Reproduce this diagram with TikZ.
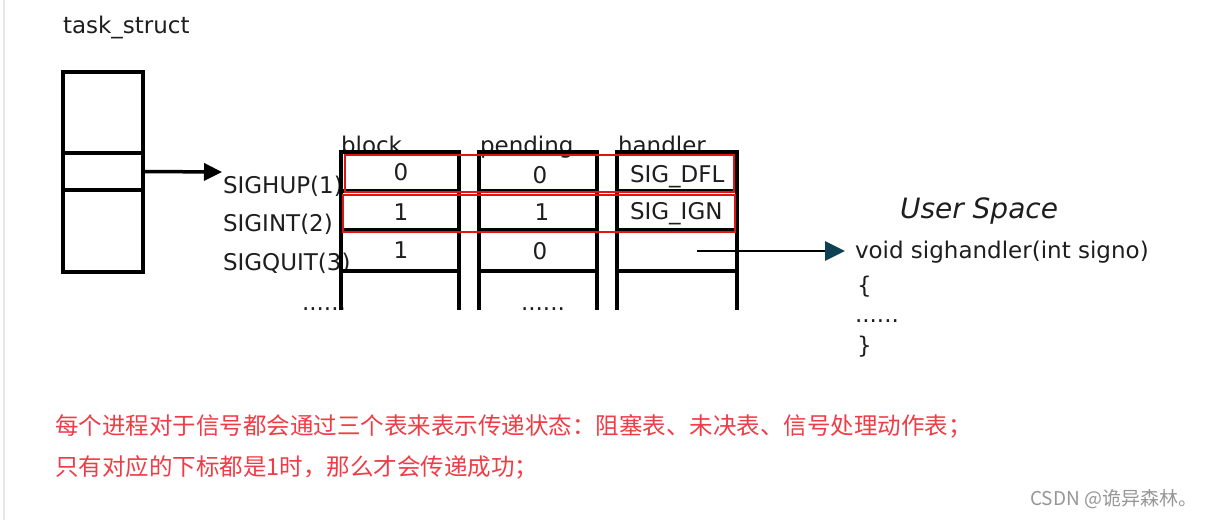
\documentclass[tikz,border=0pt]{standalone}
\usepackage{fontspec}
\setmainfont{DejaVu Sans}
\newfontfamily\cjk{Noto Sans CJK SC}
\usetikzlibrary{arrows.meta}
\definecolor{ink}{RGB}{30,30,30}
\definecolor{redtxt}{RGB}{240,60,70}
\definecolor{boxred}{RGB}{225,20,20}
\definecolor{tealhead}{RGB}{15,65,85}
\definecolor{wm}{RGB}{150,150,150}
\definecolor{edgegray}{RGB}{228,228,234}
\begin{document}
\begin{tikzpicture}[x=1pt,y=-1pt,
  lbl/.style={font=\fontsize{23}{27}\selectfont, text=ink, inner sep=0pt, outer sep=0pt, anchor=base west},
  val/.style={lbl, anchor=base},
  tbl/.style={line width=3.5pt, draw=black},
  hl/.style={draw=boxred, line width=1.3pt},
  cn/.style={font=\cjk\fontsize{23.5}{28}\selectfont, text=redtxt, inner sep=0pt, anchor=base west}]
\useasboundingbox[fill=white] (0,0) rectangle (1231,520);
\draw[edgegray, line width=1.5pt] (4,0) -- (4,520);

% task_struct
\node[lbl] (tstitle) at (63,33) {task\_struct};
\draw[tbl] (63,72) rectangle (143,272);
\node[tbl, rectangle, minimum width=80pt, minimum height=37pt, inner sep=0pt] (tsmid) at (103,171.5) {};
\coordinate (hupin) at (222,172);
\draw[line width=3.5pt, -{Triangle[length=18pt,width=17pt]}] (tsmid.east) -- (hupin);

% signal labels
\node[lbl] (sighup) at (223,193) {SIGHUP(1)};
\node[lbl] (sigint) at (223,231) {SIGINT(2)};
\node[lbl] (sigquit) at (223,270) {SIGQUIT(3)};
\node[lbl] (dotsa) at (302,310) {......};

% headers
\node[lbl] (hblock) at (341,153) {block};
\node[lbl] (hpend) at (480,153) {pending};
\node[lbl] (hhand) at (618,153) {handler};

% tables
\foreach \a/\b in {341/459, 479/597, 617/737} {
  \draw[tbl] (\a,310) -- (\a,152) -- (\b,152) -- (\b,310);
  \draw[tbl] (\a,191) -- (\b,191);
  \draw[tbl] (\a,230) -- (\b,230);
  \draw[tbl] (\a,271) -- (\b,271);
}
\node[lbl] (dotsb) at (521,310) {......};

% values
\node[val] (b1) at (401,180) {0};
\node[val] (p1) at (540,183) {0};
\node[lbl] (h1) at (630,182) {SIG\_DFL};
\node[val] (b2) at (401,220) {1};
\node[val] (p2) at (542,220) {1};
\node[lbl] (h2) at (630,219) {SIG\_IGN};
\node[val] (b3) at (401,258) {1};
\node[val] (p3) at (540,259) {0};

% highlight boxes
\draw[hl] (345,155) rectangle (734,192);
\draw[hl] (343,195) rectangle (735,232);

% handler arrow
\coordinate (hdlout) at (697,251);
\coordinate (cbin) at (845,251);
\draw[line width=2.8pt, -{Triangle[length=20pt,width=19pt,color=tealhead]}] (hdlout) -- (cbin);

% user space
\node[lbl, font=\itshape\fontsize{28}{32}\selectfont] (us) at (900,218) {User Space};
\node[lbl] (void) at (855,258) {void sighandler(int signo)};
\node[lbl] (lb) at (857,293) {\{};
\node[lbl] (dotsc) at (855,322) {......};
\node[lbl] (rb) at (857,353) {\}};

% chinese notes
\node[cn] (cna) at (55,434) {每个进程对于信号都会通过三个表来表示传递状态：阻塞表、未决表、信号处理动作表；};
\node[cn] (cnb) at (55,475) {只有对应的下标都是1时，那么才会传递成功；};

\node[font=\cjk\fontsize{19}{21}\selectfont, text=wm, anchor=base west, inner sep=0pt] (wmk) at (1030,505) {CSDN @诡异森林。};
\end{tikzpicture}
\end{document}
